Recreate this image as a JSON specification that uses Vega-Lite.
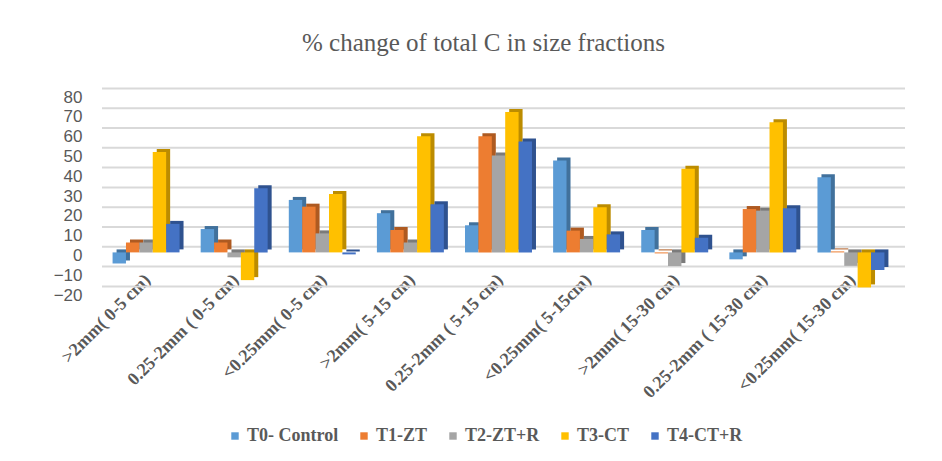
{
  "$schema": "https://vega.github.io/schema/vega-lite/v6.json",
  "width": 793,
  "height": 198,
  "autosize": {"type": "none"},
  "padding": {"left": 102, "top": 94, "right": 47, "bottom": 169},
  "background": "white",
  "title": {
    "text": "% change of total C in size fractions",
    "font": "Liberation Serif",
    "fontSize": 25,
    "fontWeight": "normal",
    "color": "#595959",
    "anchor": "middle",
    "dx": -15,
    "offset": 31
  },
  "datasets": {
    "bars": [
      {"fraction": ">2mm( 0-5 cm)", "treatment": "T0- Control", "value": -5.6},
      {"fraction": ">2mm( 0-5 cm)", "treatment": "T1-ZT", "value": 5},
      {"fraction": ">2mm( 0-5 cm)", "treatment": "T2-ZT+R", "value": 5},
      {"fraction": ">2mm( 0-5 cm)", "treatment": "T3-CT", "value": 50.7},
      {"fraction": ">2mm( 0-5 cm)", "treatment": "T4-CT+R", "value": 14.4},
      {"fraction": "0.25-2mm ( 0-5 cm)", "treatment": "T0- Control", "value": 11.8},
      {"fraction": "0.25-2mm ( 0-5 cm)", "treatment": "T1-ZT", "value": 5},
      {"fraction": "0.25-2mm ( 0-5 cm)", "treatment": "T2-ZT+R", "value": -2.5},
      {"fraction": "0.25-2mm ( 0-5 cm)", "treatment": "T3-CT", "value": -14},
      {"fraction": "0.25-2mm ( 0-5 cm)", "treatment": "T4-CT+R", "value": 32.4},
      {"fraction": "<0.25mm( 0-5 cm)", "treatment": "T0- Control", "value": 26.5},
      {"fraction": "<0.25mm( 0-5 cm)", "treatment": "T1-ZT", "value": 23.1},
      {"fraction": "<0.25mm( 0-5 cm)", "treatment": "T2-ZT+R", "value": 9.6},
      {"fraction": "<0.25mm( 0-5 cm)", "treatment": "T3-CT", "value": 29.5},
      {"fraction": "<0.25mm( 0-5 cm)", "treatment": "T4-CT+R", "value": -1},
      {"fraction": ">2mm( 5-15 cm)", "treatment": "T0- Control", "value": 19.8},
      {"fraction": ">2mm( 5-15 cm)", "treatment": "T1-ZT", "value": 11.3},
      {"fraction": ">2mm( 5-15 cm)", "treatment": "T2-ZT+R", "value": 5},
      {"fraction": ">2mm( 5-15 cm)", "treatment": "T3-CT", "value": 58.6},
      {"fraction": ">2mm( 5-15 cm)", "treatment": "T4-CT+R", "value": 24.3},
      {"fraction": "0.25-2mm ( 5-15 cm)", "treatment": "T0- Control", "value": 13.7},
      {"fraction": "0.25-2mm ( 5-15 cm)", "treatment": "T1-ZT", "value": 58.6},
      {"fraction": "0.25-2mm ( 5-15 cm)", "treatment": "T2-ZT+R", "value": 49},
      {"fraction": "0.25-2mm ( 5-15 cm)", "treatment": "T3-CT", "value": 70.9},
      {"fraction": "0.25-2mm ( 5-15 cm)", "treatment": "T4-CT+R", "value": 56},
      {"fraction": "<0.25mm( 5-15cm)", "treatment": "T0- Control", "value": 46.4},
      {"fraction": "<0.25mm( 5-15cm)", "treatment": "T1-ZT", "value": 11},
      {"fraction": "<0.25mm( 5-15cm)", "treatment": "T2-ZT+R", "value": 6.8},
      {"fraction": "<0.25mm( 5-15cm)", "treatment": "T3-CT", "value": 22.8},
      {"fraction": "<0.25mm( 5-15cm)", "treatment": "T4-CT+R", "value": 9.1},
      {"fraction": ">2mm( 15-30 cm)", "treatment": "T0- Control", "value": 11.3},
      {"fraction": ">2mm( 15-30 cm)", "treatment": "T1-ZT", "value": -0.5},
      {"fraction": ">2mm( 15-30 cm)", "treatment": "T2-ZT+R", "value": -6.9},
      {"fraction": ">2mm( 15-30 cm)", "treatment": "T3-CT", "value": 42.2},
      {"fraction": ">2mm( 15-30 cm)", "treatment": "T4-CT+R", "value": 7.4},
      {"fraction": "0.25-2mm (  15-30 cm)", "treatment": "T0- Control", "value": -3.5},
      {"fraction": "0.25-2mm (  15-30 cm)", "treatment": "T1-ZT", "value": 21.9},
      {"fraction": "0.25-2mm (  15-30 cm)", "treatment": "T2-ZT+R", "value": 21.1},
      {"fraction": "0.25-2mm (  15-30 cm)", "treatment": "T3-CT", "value": 65.7},
      {"fraction": "0.25-2mm (  15-30 cm)", "treatment": "T4-CT+R", "value": 22.3},
      {"fraction": "<0.25mm(  15-30 cm)", "treatment": "T0- Control", "value": 38},
      {"fraction": "<0.25mm(  15-30 cm)", "treatment": "T1-ZT", "value": 0.5},
      {"fraction": "<0.25mm(  15-30 cm)", "treatment": "T2-ZT+R", "value": -6.8},
      {"fraction": "<0.25mm(  15-30 cm)", "treatment": "T3-CT", "value": -17.7},
      {"fraction": "<0.25mm(  15-30 cm)", "treatment": "T4-CT+R", "value": -8.9}
    ],
    "gridlines": [
      {"tick": -20}, {"tick": -10}, {"tick": 0}, {"tick": 10}, {"tick": 20}, {"tick": 30},
      {"tick": 40}, {"tick": 50}, {"tick": 60}, {"tick": 70}, {"tick": 80}
    ]
  },
  "layer": [
    {
      "data": {"name": "gridlines"},
      "mark": {"type": "rule", "color": "#d9d9d9", "strokeWidth": 2, "xOffset": 10, "yOffset": -5.6},
      "encoding": {
        "y": {
          "field": "tick",
          "type": "quantitative",
          "scale": {"domain": [-20, 80], "nice": false},
          "axis": {"values": [-20, -10, 0, 10, 20, 30, 40, 50, 60, 70, 80]}
        }
      }
    },
    {
      "data": {"name": "bars"},
      "mark": {"type": "bar", "yOffset": -3},
      "encoding": {
        "x": {
          "field": "fraction",
          "type": "nominal",
          "sort": null,
          "scale": {"paddingInner": 0.24, "paddingOuter": 0.12, "range": [4, 797]},
          "axis": null
        },
        "xOffset": {
          "field": "treatment",
          "type": "nominal",
          "scale": {"domain": ["T0- Control", "T1-ZT", "T2-ZT+R", "T3-CT", "T4-CT+R"], "paddingInner": 0, "paddingOuter": 0}
        },
        "y": {"field": "value", "type": "quantitative", "axis": {"values": [-20, -10, 0, 10, 20, 30, 40, 50, 60, 70, 80]}},
        "color": {
          "field": "treatment",
          "type": "nominal",
          "scale": {"domain": ["T0- Control", "T1-ZT", "T2-ZT+R", "T3-CT", "T4-CT+R"], "range": ["#41719C", "#AE5A21", "#7B7B7B", "#BC8C00", "#2F528F"]},
          "legend": null
        }
      }
    },
    {
      "data": {"name": "bars"},
      "mark": {"type": "bar"},
      "encoding": {
        "x": {
          "field": "fraction",
          "type": "nominal",
          "sort": null,
          "scale": {"paddingInner": 0.24, "paddingOuter": 0.12},
          "axis": {
            "title": null,
            "labelAngle": -45,
            "labelAlign": "right",
            "labelBaseline": "middle",
            "labelPadding": -15,
            "labelOffset": 2,
            "labelFont": "Liberation Serif",
            "labelFontWeight": "bold",
            "labelFontSize": 18,
            "labelColor": "#595959",
            "labelOverlap": false,
            "domain": false,
            "ticks": false,
            "grid": false
          }
        },
        "xOffset": {
          "field": "treatment",
          "type": "nominal",
          "scale": {"domain": ["T0- Control", "T1-ZT", "T2-ZT+R", "T3-CT", "T4-CT+R"], "paddingInner": 0, "paddingOuter": 0}
        },
        "y": {"field": "value", "type": "quantitative", "axis": {"values": [-20, -10, 0, 10, 20, 30, 40, 50, 60, 70, 80]}},
        "color": {
          "field": "treatment",
          "type": "nominal",
          "scale": {"domain": ["T0- Control", "T1-ZT", "T2-ZT+R", "T3-CT", "T4-CT+R"], "range": ["#5B9BD5", "#ED7D31", "#A5A5A5", "#FFC000", "#4472C4"]},
          "legend": {
            "title": null,
            "orient": "none",
            "direction": "horizontal",
            "legendX": 124,
            "legendY": 333,
            "symbolType": "square",
            "symbolSize": 55,
            "symbolStrokeWidth": 0,
            "symbolOpacity": 1,
            "labelFont": "Liberation Serif",
            "labelFontWeight": "bold",
            "labelFontSize": 18,
            "labelColor": "#595959",
            "columnPadding": 16,
            "labelOffset": 3
          }
        }
      }
    }
  ],
  "resolve": {"scale": {"color": "independent", "x": "independent", "xOffset": "independent"}},
  "config": {
    "view": {"stroke": null},
    "axisY": {
      "title": null,
      "labelFont": "Liberation Sans",
      "labelFontSize": 17,
      "labelColor": "#595959",
      "labelPadding": 20,
      "labelOffset": 3,
      "labelOverlap": false,
      "labelFlush": false,
      "domain": false,
      "ticks": false,
      "grid": false
    }
  }
}
